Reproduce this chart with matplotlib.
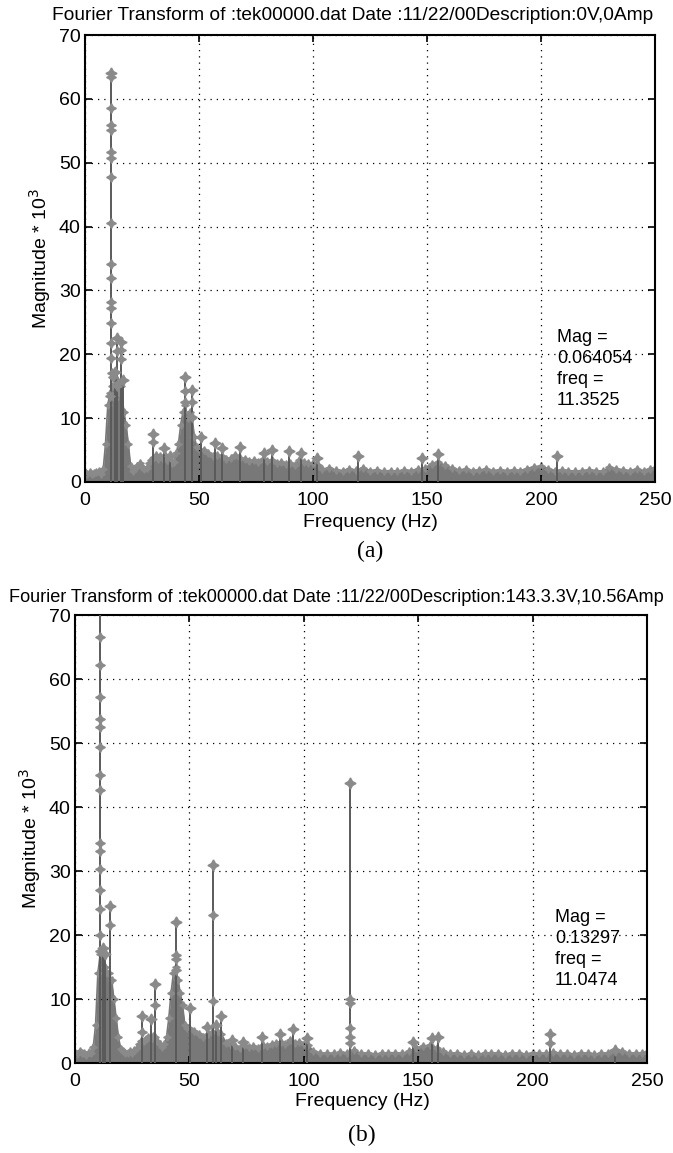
import matplotlib
matplotlib.use("Agg")
import matplotlib.pyplot as plt

plt.rcParams['font.family'] = ['Liberation Sans', 'DejaVu Sans']

# ---------------- data (a) ----------------
title_a = "Fourier Transform of :tek00000.dat Date :11/22/00Description:0V,0Amp"
floor_a_f = [0, 1, 2, 3, 4, 5, 6, 7, 8, 9, 10, 11, 12, 13, 14, 15, 16, 17, 18, 19, 20, 21, 22, 23, 24, 25, 26, 27,
             28, 29, 30, 31, 32, 33, 34, 35, 36, 37, 38, 39, 40, 41, 42, 43, 44, 45, 46, 47, 48, 49, 50, 52, 54,
             56, 58, 60, 62, 64, 66, 68, 70, 72, 74, 76, 78, 80, 82, 84, 86, 88, 90, 92, 94, 96, 98, 100, 102,
             104, 107, 110, 113, 116, 119, 122, 125, 128, 131, 134, 137, 140, 143, 146, 149, 152, 155, 158, 161,
             164, 167, 170, 173, 176, 179, 182, 185, 188, 191, 194, 197, 200, 203, 206, 209, 212, 215, 218, 221,
             224, 227, 230, 233, 236, 239, 242, 245, 248, 250]
floor_a_h = [1.5, 1.3, 1.6, 1.2, 1.4, 1.5, 1.7, 1.3, 2.0, 6.0, 12.0, 14.0, 15.0, 13.0, 16.0, 14.0, 15.0, 11.0, 9.0,
             6.0, 2.5, 1.8, 2.2, 2.5, 3.0, 2.4, 2.0, 2.2, 3.0, 3.5, 3.8, 4.2, 3.6, 4.0, 3.6, 4.2, 3.4, 3.5, 3.0,
             3.2, 4.5, 6.0, 9.0, 11.0, 12.0, 10.0, 11.0, 10.0, 7.0, 5.5, 5.2, 5.0, 4.5, 4.0, 4.2, 4.0, 3.6, 3.8,
             4.2, 3.7, 3.6, 3.3, 3.5, 3.2, 3.6, 3.3, 3.4, 3.0, 3.2, 2.8, 3.0, 2.7, 3.4, 3.2, 3.0, 3.0, 2.6, 2.0,
             2.2, 1.9, 1.8, 2.0, 1.9, 2.2, 1.8, 1.9, 1.7, 1.8, 1.7, 1.9, 1.8, 2.0, 2.2, 2.8, 3.1, 2.6, 2.2, 1.9,
             2.0, 1.8, 1.9, 2.0, 1.8, 1.9, 1.8, 1.9, 1.8, 2.1, 2.4, 2.5, 2.1, 1.8, 1.9, 1.8, 1.7, 1.8, 1.9, 1.8,
             1.7, 2.3, 2.1, 1.9, 1.8, 2.0, 1.8, 2.1, 2.2]
stem_a_f = [11.35, 13.9, 15.8, 13.2, 16.6, 29.7, 34.6, 37.3, 43.9, 46.8, 50.9, 57.0, 60.2, 68.0, 78.5, 81.9,
            89.6, 94.6, 101.6, 119.9, 147.7, 154.8, 206.9]
stem_a_h = [64.05, 22.5, 22.0, 17.3, 16.0, 7.5, 5.3, 4.0, 16.5, 14.4, 7.1, 6.1, 5.3, 5.5, 4.5, 5.0, 4.8, 4.6,
            3.7, 4.0, 3.7, 4.4, 4.0]
mark_a_f = [11.35] * 15 + [43.9, 43.9, 46.8, 46.8, 29.7, 13.9, 13.9, 15.8, 15.8, 12.4, 12.0, 10.8, 14.6]
mark_a_h = [63.5, 58.5, 55.9, 55.2, 51.7, 50.7, 47.8, 40.5, 34.2, 31.9, 28.2, 27.2, 24.9, 21.8, 19.4,
            14.3, 12.5, 12.5, 10.2, 6.3, 20.5, 15.0, 20.7, 19.2, 16.5, 17.0, 13.5, 15.5]
note_a = "Mag =\n0.064054\nfreq =\n11.3525"

# ---------------- data (b) ----------------
title_b = "Fourier Transform of :tek00000.dat Date :11/22/00Description:143.3.3V,10.56Amp"
floor_b_f = [0, 1, 2, 3, 4, 5, 6, 7, 8, 9, 10, 11, 12, 13, 14, 15, 16, 17, 18, 19, 20, 21, 22, 23, 24, 25, 26, 27,
             28, 29, 30, 31, 32, 33, 34, 35, 36, 37, 38, 39, 40, 41, 42, 43, 44, 45, 46, 47, 48, 49, 50, 52, 54,
             56, 58, 60, 62, 64, 66, 68, 70, 72, 74, 76, 78, 80, 82, 84, 86, 88, 90, 92, 94, 96, 98, 100, 102,
             104, 107, 110, 113, 116, 119, 122, 125, 128, 131, 134, 137, 140, 143, 146, 149, 152, 155, 158, 161,
             164, 167, 170, 173, 176, 179, 182, 185, 188, 191, 194, 197, 200, 203, 206, 209, 212, 215, 218, 221,
             224, 227, 230, 233, 236, 239, 242, 245, 248, 250]
floor_b_h = [1.6, 1.4, 1.8, 1.5, 1.5, 1.3, 1.7, 1.6, 2.5, 6.0, 14.0, 17.0, 17.0, 15.0, 14.0, 14.0, 13.0, 10.0, 7.0,
             4.0, 2.2, 1.8, 1.6, 1.5, 1.8, 1.6, 2.0, 2.4, 3.0, 3.4, 3.5, 3.8, 4.0, 3.8, 4.2, 4.0, 3.5, 3.0, 2.5,
             3.0, 4.0, 7.0, 11.0, 14.0, 15.0, 13.0, 11.0, 9.0, 6.0, 5.5, 5.5, 5.0, 4.5, 4.0, 4.5, 4.8, 5.0, 4.5,
             3.2, 2.8, 2.6, 2.4, 2.8, 2.5, 2.6, 2.4, 2.8, 2.6, 3.0, 3.1, 3.3, 3.0, 3.6, 3.2, 3.3, 3.0, 2.8, 1.9,
             1.6, 1.5, 1.5, 1.7, 1.6, 2.0, 1.5, 1.6, 1.4, 1.5, 1.6, 1.6, 1.5, 1.8, 2.4, 2.6, 2.8, 2.4, 1.8, 1.5,
             1.6, 1.4, 1.5, 1.4, 1.5, 1.6, 1.5, 1.4, 1.6, 1.5, 1.4, 1.6, 1.5, 1.5, 1.7, 1.5, 1.5, 1.4, 1.6, 1.5,
             1.4, 1.5, 1.6, 1.9, 1.8, 1.6, 1.5, 1.5, 1.7]
stem_b_f = [11.05, 15.2, 44.1, 60.2, 120.2, 35.0, 29.4, 33.2, 50.3, 57.5, 61.6, 63.7, 68.5, 73.6, 81.6, 89.6,
            95.1, 101.3, 147.9, 155.9, 158.8, 207.6, 236.0, 12.3, 13.0]
stem_b_h = [132.97, 24.6, 22.1, 30.9, 43.7, 12.4, 7.3, 6.9, 8.6, 5.6, 5.9, 7.3, 3.6, 3.3, 4.1, 4.6, 5.3, 3.9,
            3.3, 3.9, 4.0, 4.5, 2.0, 18.0, 17.0]
mark_b_f = [11.05] * 15 + [15.2, 44.1, 44.1, 44.1, 60.2, 60.2, 120.2, 120.2, 120.2, 120.2, 120.2, 35.0, 29.4,
                           207.6]
mark_b_h = [66.6, 62.2, 57.2, 53.8, 52.5, 49.3, 45.0, 42.6, 34.3, 33.2, 30.3, 27.0, 24.0, 20.0, 17.5,
            21.6, 16.9, 16.3, 14.5, 23.2, 9.7, 10.0, 9.4, 5.5, 4.0, 3.2, 9.1, 4.8, 3.2]
note_b = "Mag =\n0.13297\nfreq =\n11.0474"

FILL = '#787878'
MARK = '#8a8a8a'
STEM = '#5a5a5a'
STAR = (4, 1, 0)

W, H = 673, 1153
fig = plt.figure(figsize=(W / 100, H / 100), dpi=100)


def panel(rect, ff, fh, sf, sh, mf, mh, title, title_xy, title_fs, note, note_xy, xl_xy, tag, tag_xy):
    l, t, r, b = rect
    ax = fig.add_axes([l / W, 1 - b / H, (r - l) / W, (b - t) / H])
    ax.fill_between(ff, 0, fh, color=FILL, lw=0, zorder=2)
    ax.plot(ff, fh, color=FILL, lw=1.2, marker=STAR, ms=5.5, mec=MARK, mfc=MARK, zorder=2)
    ax.vlines(sf, 0, sh, color=STEM, lw=1.4, zorder=3)
    ax.plot(sf, sh, ls='none', marker=STAR, ms=8, mec=MARK, mfc=MARK, mew=1.0, zorder=4)
    ax.plot(mf, mh, ls='none', marker=STAR, ms=7, mec=MARK, mfc=MARK, mew=1.0, zorder=4)
    ax.set_xlim(0, 250)
    ax.set_ylim(0, 70)
    ax.set_xticks([0, 50, 100, 150, 200, 250])
    ax.set_yticks([0, 10, 20, 30, 40, 50, 60, 70])
    ax.grid(True, color='black', ls=(0, (1, 4)), lw=0.9, zorder=1)
    ax.set_axisbelow(False)
    ax.tick_params(direction='in', length=5, width=1.2, top=True, right=True, labelsize=14)
    ax.tick_params(axis='x', pad=7)
    ax.tick_params(axis='y', pad=3)
    for s in ax.spines.values():
        s.set_linewidth(1.5)
    ax.set_ylabel("Magnitude * 10$^3$", fontsize=14, labelpad=4)
    fig.text(xl_xy[0] / W, 1 - xl_xy[1] / H, "Frequency (Hz)", fontsize=14, ha='center', va='center')
    fig.text(title_xy[0] / W, 1 - title_xy[1] / H, title, fontsize=title_fs, ha='center', va='center')
    fig.text(note_xy[0] / W, 1 - note_xy[1] / H, note, fontsize=13, ha='left', va='top',
             linespacing=1.3)
    fig.text(tag_xy[0] / W, 1 - tag_xy[1] / H, tag, fontsize=17, ha='center', va='center',
             family='Liberation Serif')
    return ax


panel((85, 35, 655, 482), floor_a_f, floor_a_h, stem_a_f, stem_a_h, mark_a_f, mark_a_h,
      title_a, (353, 16), 13.8, note_a, (557, 329), (370, 522), "(a)", (370, 551))
panel((75, 615, 647, 1063), floor_b_f, floor_b_h, stem_b_f, stem_b_h, mark_b_f, mark_b_h,
      title_b, (336, 597), 13.1, note_b, (555, 909), (362, 1102), "(b)", (362, 1135))

fig.savefig("out.png", dpi=100)
